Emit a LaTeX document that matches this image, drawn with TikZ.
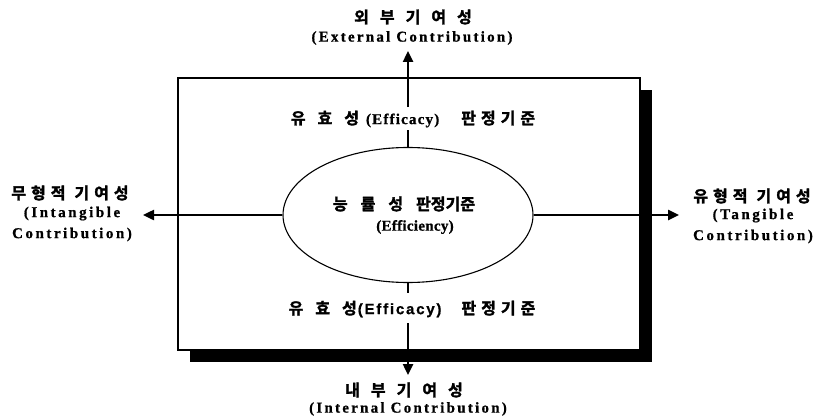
\documentclass[tikz,border=0pt]{standalone}
\usepackage{fontspec}
\setmainfont{Liberation Serif}
\newfontfamily\kr{Noto Sans CJK KR}[UprightFont=* Bold,FakeBold=2]
\newfontfamily\ensans{Liberation Sans}[UprightFont=* Bold,FakeBold=0.8]
\newfontfamily\enserif{Liberation Serif}[UprightFont=* Bold,FakeBold=0.8]
\newcommand\ls[1]{\addfontfeature{LetterSpace=#1}}
\newcommand\kk[1]{\kern#1pt\relax}
\usetikzlibrary{arrows.meta,shapes.geometric}
\begin{document}
\begin{tikzpicture}[x=1pt,y=-1pt,
  ko/.style={font=\kr\fontsize{16}{18}\selectfont,inner sep=0pt},
  en/.style={font=\enserif\fontsize{15}{17}\selectfont,inner sep=0pt},
  row/.style={inner sep=0pt},
  arr/.style={line width=2.4pt,-{Triangle[length=11pt,width=10pt]}},
  ln/.style={line width=2.4pt}]
\useasboundingbox (0,0) rectangle (819,420);
% shadow
\fill[black] (190,90) rectangle (652,362);
% box
\draw[line width=1.2pt,fill=white] (178,78) rectangle (640,350);
% ellipse
\node[ellipse,draw,line width=1.1pt,minimum width=250pt,minimum height=135pt,inner sep=0pt] (ell) at (408,215) {};
\node[ko] (c1) at (404,204) {능\kk{13}률\kk{13}성\kk{13}판정기준};
\node[en] (c2) at (415,227) {\ls{2}(Efficiency)};
% top
\node[ko] (t1) at (413,17) {외\kk{11}부\kk{11}기\kk{11}여\kk{11}성};
\node[en] (t2) at (412,38) {\ls{15}(External Contribution)};
\coordinate (tt) at (408,51);
\coordinate (ta) at (408,107);
\coordinate (tb) at (408,130);
\node[row] (e1) at (413,119) {\kr\fontsize{16}{18}\selectfont 유\kk{12}효\kk{12}성\kk{7}{\enserif\fontsize{15}{17}\selectfont\ls{8}(Efficacy)}\kk{22}판\kk{5}정\kk{5}기\kk{5}준};
\node[row] (e2) at (412,309) {\kr\fontsize{16}{18}\selectfont 유\kk{12}효\kk{12}성\kk{1}{\ensans\fontsize{15}{17}\selectfont\ls{12}(Efficacy)}\kk{20}판\kk{5}정\kk{5}기\kk{5}준};
% bottom
\coordinate (ba) at (408,293);
\coordinate (bb) at (408,323);
\coordinate (bt) at (408,375);
\node[ko] (b1) at (404,390) {내\kk{11}부\kk{11}기\kk{11}여\kk{11}성};
\node[en] (b2) at (408,409) {\ls{15}(Internal Contribution)};
% left / right
\coordinate (ll) at (143,215);
\coordinate (rr) at (679,215);
\node[ko] (l1) at (70,193) {무\kk{5}형\kk{5}적\kk{9}기\kk{5}여\kk{5}성};
\node[en,align=center] (l2) at (72,224) {\ls{17}(Intangible\\[4pt]\ls{17}Contribution)};
\node[ko] (r1) at (752,196) {유\kk{5}형\kk{5}적\kk{9}기\kk{5}여\kk{5}성};
\node[en,align=center] (r2) at (753,226) {\ls{17}(Tangible\\[4pt]\ls{17}Contribution)};
% connectors
\draw[ln] (ell.north) -- (tb);
\draw[arr] (ta) -- (tt);
\draw[ln] (ell.south) -- (ba);
\draw[arr] (bb) -- (bt);
\draw[arr] (ell.west) -- (ll);
\draw[arr] (ell.east) -- (rr);
\end{tikzpicture}
\end{document}
